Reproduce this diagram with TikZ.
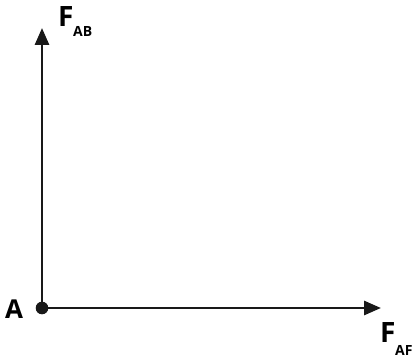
\documentclass[tikz,border=0pt]{standalone}
\usepackage{fontspec}
\setmainfont{Open Sans}
\usetikzlibrary{arrows.meta}
\begin{document}
\begin{tikzpicture}[x=1pt,y=-1pt,
  force/.style={line width=2.9pt,-{Triangle[length=17pt,width=14pt]},color=black!90},
  big/.style={inner sep=0pt,anchor=base west,font=\fontsize{28}{28}\selectfont\bfseries},
  sub/.style={inner sep=0pt,anchor=base west,font=\fontsize{14}{14}\selectfont\bfseries}]
\useasboundingbox (0,0) rectangle (417,358);
\coordinate (A) at (42,308);
\coordinate (B) at (42,28);
\coordinate (C) at (381,308);
\draw[force] (A) -- (B);
\draw[force] (A) -- (C);
\fill[black!90] (A) circle (6.3pt);
\node[big,font=\fontsize{26}{26}\selectfont\bfseries] (la) at (5,318) {A};
\node[big] (fab) at (58,27) {F};
\node[sub] (fabs) at (73,37) {AB};
\node[big] (faf) at (380,342) {F};
\node[sub] (fafs) at (395,355) {AF};
\end{tikzpicture}
\end{document}
